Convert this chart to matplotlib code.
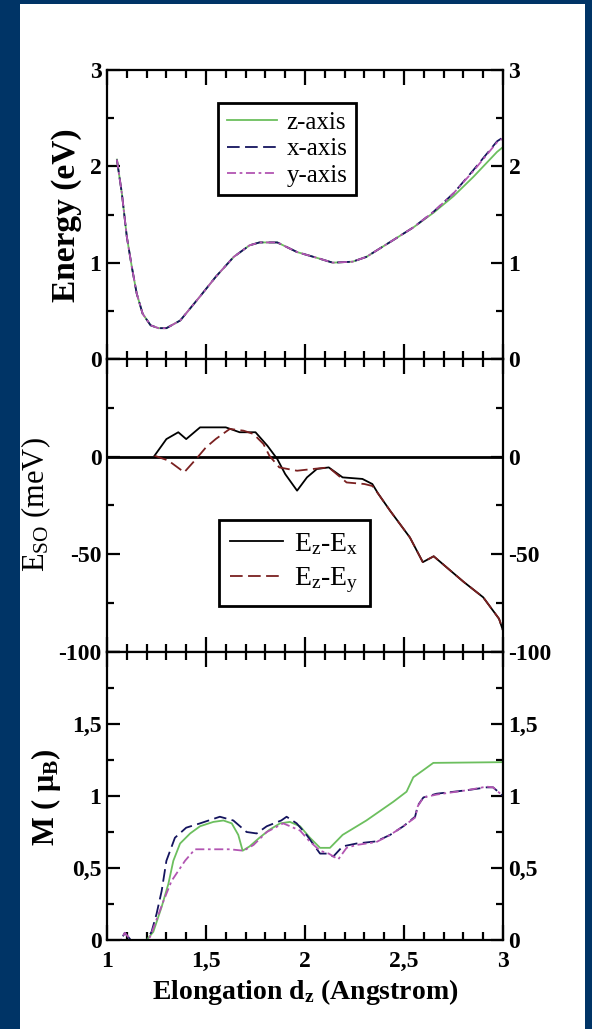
import numpy as np
import matplotlib
matplotlib.use("Agg")
import matplotlib.pyplot as plt
from matplotlib.patches import Rectangle

plt.rcParams["font.family"] = ["Liberation Serif", "DejaVu Serif"]
plt.rcParams["mathtext.fontset"] = "custom"
plt.rcParams["mathtext.rm"] = "Liberation Serif"
plt.rcParams["mathtext.it"] = "Liberation Serif:italic"
plt.rcParams["mathtext.bf"] = "Liberation Serif:bold"
plt.rcParams["axes.unicode_minus"] = False

# --- top panel: energy vs elongation
x_energy = [1.05, 1.075, 1.10, 1.125, 1.15, 1.18, 1.22, 1.26, 1.30, 1.37, 1.47, 1.55,
            1.64, 1.72, 1.77, 1.86, 1.96, 2.06, 2.14, 2.24, 2.31, 2.45, 2.55, 2.65,
            2.75, 2.85, 2.97, 3.0]
energy_z = [2.07, 1.72, 1.27, 0.96, 0.68, 0.47, 0.35, 0.32, 0.32, 0.40, 0.65, 0.855,
            1.06, 1.18, 1.21, 1.21, 1.11, 1.05, 1.00, 1.01, 1.06, 1.24, 1.37, 1.52,
            1.69, 1.89, 2.15, 2.20]
energy_x = [2.07, 1.72, 1.27, 0.96, 0.68, 0.47, 0.35, 0.32, 0.32, 0.40, 0.65, 0.855,
            1.06, 1.18, 1.21, 1.21, 1.11, 1.05, 1.00, 1.01, 1.06, 1.24, 1.37, 1.53,
            1.72, 1.96, 2.26, 2.30]
energy_y = [2.07, 1.72, 1.27, 0.96, 0.68, 0.47, 0.35, 0.32, 0.32, 0.40, 0.65, 0.855,
            1.06, 1.18, 1.21, 1.21, 1.11, 1.05, 1.00, 1.01, 1.06, 1.24, 1.37, 1.53,
            1.72, 1.95, 2.25, 2.29]

# --- middle panel: spin-orbit energy differences (meV)
x_so_zx = [1.24, 1.30, 1.36, 1.40, 1.47, 1.60, 1.67, 1.75, 1.81, 1.86, 1.90, 1.96,
           2.01, 2.06, 2.12, 2.19, 2.29, 2.34, 2.37, 2.43, 2.53, 2.595, 2.65, 2.80,
           2.90, 2.98, 3.0]
so_zx = [0.5, 9, 12.5, 9, 15, 15, 12.5, 12.5, 5.6, -1.2, -8.9, -17.4,
         -10.6, -6.3, -5.5, -10.6, -11.4, -14, -19, -27.7, -41.4, -54, -51, -64,
         -72, -83, -89]
x_so_zy = [1.24, 1.31, 1.39, 1.45, 1.50, 1.55, 1.62, 1.69, 1.74, 1.79, 1.82, 1.87,
           1.96, 2.04, 2.12, 2.21, 2.30, 2.34, 2.37, 2.43, 2.53, 2.595, 2.65, 2.80,
           2.90, 2.98, 3.0]
so_zy = [0.5, -2, -8, -1.2, 4.8, 9.1, 14.2, 13.3, 11.6, 6.5, 0.5, -5.5,
         -7.2, -6.3, -5.5, -13.2, -14, -15, -19, -27.7, -41.4, -54, -51, -64,
         -72, -83, -89]

# --- bottom panel: magnetic moment
x_mz = [1.0, 1.20, 1.234, 1.276, 1.31, 1.335, 1.369, 1.42, 1.47, 1.537, 1.588, 1.63,
        1.663, 1.685, 1.72, 1.77, 1.82, 1.874, 1.924, 1.975, 2.025, 2.076, 2.126,
        2.19, 2.31, 2.446, 2.513, 2.547, 2.598, 2.648, 3.0]
m_z = [0, 0, 0.057, 0.23, 0.39, 0.55, 0.67, 0.74, 0.79, 0.82, 0.83, 0.81,
       0.73, 0.62, 0.65, 0.71, 0.765, 0.81, 0.82, 0.79, 0.71, 0.64, 0.64,
       0.73, 0.83, 0.96, 1.03, 1.13, 1.18, 1.23, 1.235]
x_mx = [1.0, 1.07, 1.09, 1.12, 1.20, 1.225, 1.25, 1.276, 1.30, 1.343, 1.40, 1.47,
        1.57, 1.638, 1.705, 1.756, 1.807, 1.88, 1.907, 1.958, 2.008, 2.076, 2.11,
        2.143, 2.19, 2.26, 2.36, 2.43, 2.497, 2.556, 2.57, 2.598, 2.665, 2.817,
        2.917, 2.95, 3.0]
m_x = [0, 0, 0.05, 0, 0, 0.057, 0.18, 0.34, 0.55, 0.71, 0.78, 0.81,
       0.856, 0.83, 0.75, 0.74, 0.79, 0.83, 0.856, 0.81, 0.73, 0.60, 0.60,
       0.58, 0.65, 0.67, 0.685, 0.73, 0.79, 0.856, 0.935, 0.99, 1.016, 1.04,
       1.06, 1.06, 1.0]
x_my = [1.0, 1.07, 1.09, 1.12, 1.20, 1.217, 1.285, 1.326, 1.394, 1.444, 1.537, 1.62,
        1.69, 1.74, 1.807, 1.89, 1.975, 2.02, 2.076, 2.12, 2.168, 2.21, 2.26,
        2.36, 2.43, 2.497, 2.556, 2.57, 2.598, 2.665, 2.817, 2.917, 2.95, 3.0]
m_y = [0, 0, 0.05, 0, 0, 0.02, 0.27, 0.41, 0.55, 0.63, 0.63, 0.63,
       0.62, 0.66, 0.75, 0.81, 0.76, 0.69, 0.62, 0.60, 0.56, 0.64, 0.66,
       0.68, 0.73, 0.79, 0.85, 0.93, 0.99, 1.01, 1.04, 1.065, 1.06, 1.0]

green = "#6cbf5e"
navy = "#14145e"
violet = "#b255b2"
darkred = "#7a2020"

fig = plt.figure(figsize=(5.92, 10.29), dpi=100, facecolor="#003466")
fig.patches.append(Rectangle((20 / 592, 0), 565 / 592, 1 - 4 / 1029,
                             transform=fig.transFigure, facecolor="white",
                             edgecolor="none", zorder=-10))

left = 107 / 592
width = 396 / 592
tops = [70, 359, 652, 940]
axes = []
for i in range(3):
    b = 1 - tops[i + 1] / 1029
    h = (tops[i + 1] - tops[i]) / 1029
    axes.append(fig.add_axes([left, b, width, h]))
ax1, ax2, ax3 = axes

ax1.plot(x_energy, energy_z, color=green, lw=1.3, label="z-axis")
ax1.plot(x_energy, energy_x, color=navy, lw=1.3, dashes=(7, 3), label="x-axis")
ax1.plot(x_energy, energy_y, color=violet, lw=1.3, dashes=(5, 2, 1.5, 2), label="y-axis")
ax1.set_ylim(0, 3)
ax1.set_yticks([0, 1, 2, 3], ["0", "1", "2", "3"])
ax1.set_yticks([0.5, 1.5, 2.5], minor=True)

ax2.axhline(0, color="black", lw=2)
ax2.plot(x_so_zx, so_zx, color="black", lw=1.3, label=r"E$_{\mathrm{z}}$-E$_{\mathrm{x}}$")
ax2.plot(x_so_zy, so_zy, color=darkred, lw=1.3, dashes=(7, 3), label=r"E$_{\mathrm{z}}$-E$_{\mathrm{y}}$")
ax2.set_ylim(-100, 50)
ax2.set_yticks([-100, -50, 0, 50], ["-100", "-50", "0", ""])
ax2.set_yticks([-75, -25, 25], minor=True)

ax3.plot(x_mz, m_z, color=green, lw=1.3)
ax3.plot(x_mx, m_x, color=navy, lw=1.3, dashes=(7, 3))
ax3.plot(x_my, m_y, color=violet, lw=1.3, dashes=(5, 2, 1.5, 2))
ax3.set_ylim(0, 2)
ax3.set_yticks([0, 0.5, 1, 1.5, 2], ["0", "0,5", "1", "1,5", ""])
ax3.set_yticks([0.25, 0.75, 1.25, 1.75], minor=True)

for ax in axes:
    ax.set_xlim(1, 3)
    ax.set_xticks([1, 1.5, 2, 2.5, 3], ["1", "1,5", "2", "2,5", "3"])
    ax.set_xticks(np.arange(1.1, 3.0, 0.1), minor=True)
    for s in ax.spines.values():
        s.set_linewidth(1.6)
    ax.tick_params(which="both", direction="in", top=True, right=True,
                   labelright=True, width=1.6, labelsize=17, pad=4)
    ax.tick_params(axis="x", which="major", length=11)
    ax.tick_params(axis="x", which="minor", length=6)
    ax.tick_params(axis="y", which="major", length=9)
    ax.tick_params(axis="y", which="minor", length=5)
    for t in ax.get_yticklabels() + ax.get_xticklabels():
        t.set_fontweight("bold")
    if ax is not ax3:
        ax.tick_params(axis="x", labelbottom=False)

ax3.tick_params(axis="x", pad=8)

leg1 = ax1.legend(loc="upper left", bbox_to_anchor=(0.28, 0.886), borderaxespad=0,
                  fontsize=18, handlelength=2.0, handletextpad=0.4, borderpad=0.35,
                  labelspacing=0.15, fancybox=False, framealpha=1)
leg1.get_frame().set_edgecolor("black")
leg1.get_frame().set_linewidth(2)

leg2 = ax2.legend(loc="upper left", bbox_to_anchor=(0.283, 0.45), borderaxespad=0,
                  fontsize=20, handlelength=1.9, handletextpad=0.4, borderpad=0.4,
                  labelspacing=0.3, fancybox=False, framealpha=1)
leg2.get_frame().set_edgecolor("black")
leg2.get_frame().set_linewidth(2)

fig.text(66 / 592, 1 - 215 / 1029, "Energy (eV)", rotation=90, ha="center",
         va="center", fontsize=24, fontweight="bold")
fig.text(36 / 592, 1 - 505 / 1029, r"E$_{\mathrm{SO}}$ (meV)", rotation=90,
         ha="center", va="center", fontsize=22)
fig.text(46 / 592, 1 - 797 / 1029, r"M ( μ$_{\mathbf{B}}$)", rotation=90,
         ha="center", va="center", fontsize=22, fontweight="bold")
fig.text(305 / 592, 1 - 992 / 1029, r"Elongation d$_{\mathbf{z}}$ (Angstrom)",
         ha="center", va="center", fontsize=20, fontweight="bold")

fig.savefig("out.png", dpi=100, facecolor=fig.get_facecolor())
